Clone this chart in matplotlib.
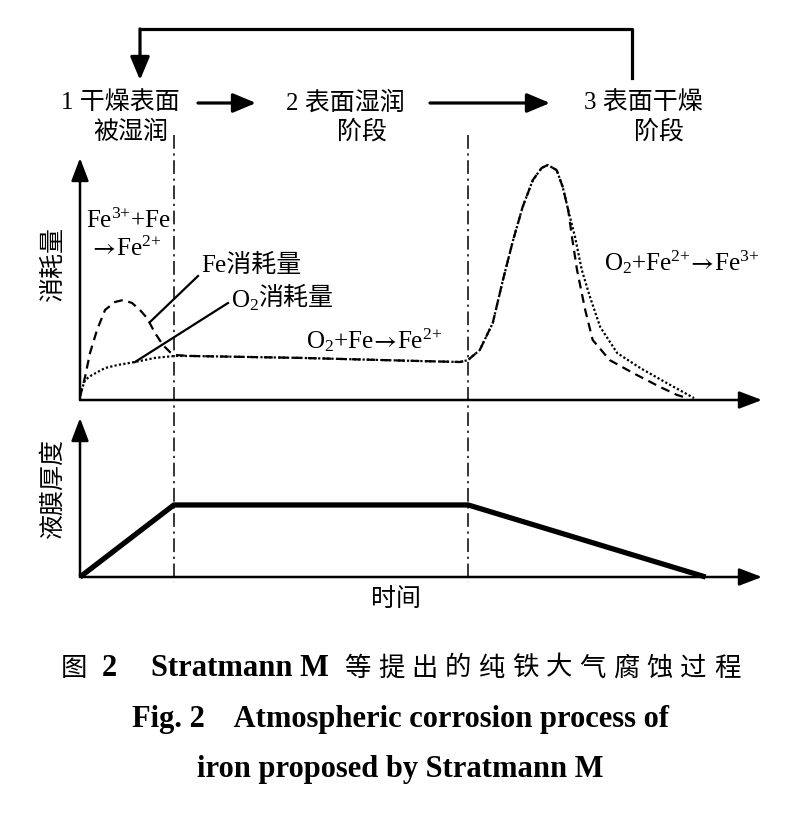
import matplotlib
matplotlib.use('Agg')
import matplotlib.pyplot as plt
from matplotlib.lines import Line2D
import matplotlib.transforms as mtransforms

plt.rcParams['font.family'] = ['Liberation Serif', 'Noto Sans CJK SC', 'DejaVu Sans']
plt.rcParams['mathtext.fontset'] = 'stix'
plt.rcParams['mathtext.default'] = 'regular'

# ---------------- data ----------------
# upper panel: consumption (arbitrary units) vs time (arbitrary units)
fe_t = [0, 0.74, 1.47, 2.5, 3.68, 5.15, 6.32, 7.65, 8.82, 9.85, 11.03, 12.2, 13.24,
        13.97, 16.2, 32.35, 50.0, 55.9, 57.06, 58.8, 60.7, 62.2, 63.7, 65.1, 66.6,
        67.9, 68.8, 70.1, 71.0, 71.8, 72.35, 73.1, 74.3, 75.4, 77.9, 81.3, 85.3,
        87.8, 89.3]
fe_v = [1.2, 9.5, 19.4, 28.9, 37.2, 40.5, 41.3, 40.1, 37.2, 33.9, 27.7, 22.7, 19.8,
        18.6, 18.2, 17.4, 16.1, 15.7, 16.5, 20.7, 31.8, 49.6, 66.1, 79.8, 90.9,
        95.9, 97.1, 95.0, 88.0, 78.5, 67.4, 53.7, 37.2, 24.8, 16.5, 11.2, 5.4,
        2.1, 0.8]
o2_t = [0, 0.74, 1.76, 3.68, 5.59, 8.09, 11.03, 13.97, 16.2, 32.35, 50.0, 55.9,
        57.06, 58.8, 60.7, 62.2, 63.7, 65.1, 66.6, 67.9, 68.8, 70.1, 71.0, 71.8,
        72.8, 73.8, 75.0, 76.5, 79.0, 82.4, 86.3, 90.3]
o2_v = [2.1, 8.3, 10.3, 13.2, 14.5, 15.7, 17.4, 18.2, 18.2, 17.4, 16.1, 15.7,
        16.5, 20.7, 31.8, 49.6, 66.1, 79.8, 90.9, 95.9, 97.1, 95.0, 88.0, 78.5,
        67.4, 53.7, 42.6, 30.2, 19.4, 13.2, 7.0, 0.8]
# lower panel: liquid film thickness
film_t = [0, 13.8, 57.1, 92.0]
film_v = [0, 45.3, 45.3, 0]
# stage boundaries
stage_bounds = [13.8, 57.1]

caption_cn = '等提出的纯铁大气腐蚀过程'
caption_en1 = 'Fig. 2    Atmospheric corrosion process of'
caption_en2 = 'iron proposed by Stratmann M'

# ---------------- layout ----------------
W, H = 810, 825
fig = plt.figure(figsize=(W / 100, H / 100), dpi=100)


def fx(x):
    return x / W


def fy(y):
    return 1 - y / H


def P(x, y):
    return (x, H - y)


ax1 = fig.add_axes([fx(80), fy(400), (762 - 80) / W, (400 - 158) / H])
ax2 = fig.add_axes([fx(80), fy(577), (762 - 80) / W, (577 - 418) / H])
for ax in (ax1, ax2):
    ax.set_axis_off()
    ax.set_xlim(0, 100.3)
    ax.set_ylim(0, 100)
    ap = dict(arrowstyle='-|>,head_length=1.0,head_width=0.38', lw=1.8, color='black',
              shrinkA=0, shrinkB=0, mutation_scale=14)
    ax.annotate('', xy=(1, 0), xytext=(0, 0), xycoords='axes fraction', arrowprops=ap)
    ax.annotate('', xy=(0, 1), xytext=(0, 0), xycoords='axes fraction', arrowprops=ap)

ax1.plot(o2_t, o2_v, color='black', lw=1.6, linestyle=(0, (1, 1.0)), clip_on=False)
ax1.plot(fe_t, fe_v, color='black', lw=1.6, linestyle=(0, (4, 2.6)), clip_on=False)
ax2.plot(film_t, film_v, color='black', lw=3.8, solid_capstyle='butt', clip_on=False)

# vertical dash-dot boundaries spanning both panels
btr = mtransforms.blended_transform_factory(ax1.transData, fig.transFigure)
for b in stage_bounds:
    fig.add_artist(Line2D([b, b], [fy(135), fy(582)], transform=btr, color='black',
                          lw=1.1, linestyle=(0, (9, 3, 1.5, 3))))

# ---------------- texts ----------------
fs = 18
fig.text(fx(61), fy(103), '1 干燥表面', ha='left', va='center', fontsize=fs)
fig.text(fx(131), fy(132), '被湿润', ha='center', va='center', fontsize=fs)
fig.text(fx(286), fy(103), '2 表面湿润', ha='left', va='center', fontsize=fs)
fig.text(fx(362), fy(132), '阶段', ha='center', va='center', fontsize=fs)
fig.text(fx(584), fy(103), '3 表面干燥', ha='left', va='center', fontsize=fs)
fig.text(fx(659), fy(132), '阶段', ha='center', va='center', fontsize=fs)

hp = dict(arrowstyle='-|>,head_length=1.0,head_width=0.42', lw=2.3, color='black',
          shrinkA=0, shrinkB=0, mutation_scale=14)
fig.add_artist(Line2D([fx(632), fx(632), fx(140)], [fy(78), fy(29), fy(29)],
                      transform=fig.transFigure, color='black', lw=2.3))
ax1.annotate('', xy=P(140, 80), xytext=P(140, 29), xycoords='figure pixels',
             textcoords='figure pixels', arrowprops=hp)
ax1.annotate('', xy=P(256, 103), xytext=P(198, 103), xycoords='figure pixels',
             textcoords='figure pixels', arrowprops=hp)
ax1.annotate('', xy=P(550, 103), xytext=P(430, 103), xycoords='figure pixels',
             textcoords='figure pixels', arrowprops=hp)

fig.text(fx(53), fy(264), '消耗量', rotation=90, ha='center', va='center', fontsize=fs)
fig.text(fx(53), fy(488), '液膜厚度', rotation=90, ha='center', va='center', fontsize=fs)
fig.text(fx(396), fy(600), '时间', ha='center', va='center', fontsize=fs)

AR = r'$\!\mathrm{\rightarrow}\!$'
fig.text(fx(86), fy(221), 'Fe$^{3{+}}$+Fe', ha='left', va='center', fontsize=fs,
         family='Liberation Serif')
fig.text(fx(92), fy(249), AR + 'Fe$^{2{+}}$', ha='left', va='center', fontsize=fs,
         family='Liberation Serif')
fig.text(fx(201), fy(265), 'Fe消耗量', ha='left', va='center', fontsize=fs)
fig.text(fx(231), fy(301), 'O$_2$', ha='left', va='center', fontsize=fs,
         family='Liberation Serif')
fig.text(fx(258), fy(298), '消耗量', ha='left', va='center', fontsize=fs,
         family='Noto Sans CJK SC')
fig.text(fx(306), fy(340), 'O$_2$+Fe' + AR + 'Fe$^{2{+}}$', ha='left', va='center',
         fontsize=fs, family='Liberation Serif')
fig.text(fx(604), fy(262), 'O$_2$+Fe$^{2{+}}$' + AR + 'Fe$^{3{+}}$', ha='left',
         va='center', fontsize=fs, family='Liberation Serif')

# leader lines
fig.add_artist(Line2D([fx(150), fx(198)], [fy(322), fy(276)], transform=fig.transFigure,
                      color='black', lw=1.6))
fig.add_artist(Line2D([fx(135), fx(228)], [fy(362), fy(303)], transform=fig.transFigure,
                      color='black', lw=1.6))

# caption
cfs = 22
cy = 668
fig.text(fx(74), fy(cy), '图', ha='center', va='center', fontsize=19,
         family='Noto Sans CJK SC', fontweight='medium')
fig.text(fx(109), fy(cy), '2', ha='center', va='center', fontsize=cfs,
         fontweight='bold', family='Liberation Serif')
fig.text(fx(151), fy(cy), 'Stratmann M', ha='left', va='center', fontsize=cfs,
         fontweight='bold', family='Liberation Serif')
for i, ch in enumerate(caption_cn):
    fig.text(fx(357.5 + i * 33.6), fy(cy), ch, ha='center', va='center', fontsize=19,
             family='Noto Sans CJK SC', fontweight='medium')
fig.text(fx(401), fy(720), caption_en1, ha='center', va='center', fontsize=cfs,
         fontweight='bold')
fig.text(fx(400), fy(770), caption_en2, ha='center', va='center', fontsize=cfs,
         fontweight='bold')

fig.savefig('out.png', dpi=100, facecolor='white')
